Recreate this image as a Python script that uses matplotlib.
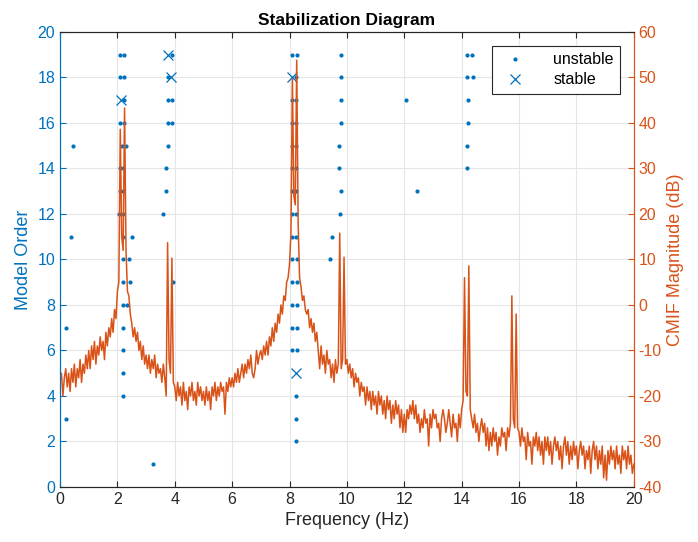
import numpy as np
import matplotlib
matplotlib.use('Agg')
import matplotlib.pyplot as plt
from matplotlib.lines import Line2D

plt.rcParams['font.family'] = ['Liberation Sans', 'DejaVu Sans']
plt.rcParams['axes.unicode_minus'] = False

# unstable poles: (frequency Hz, model order)
unstable_freq = [
    2.09, 2.23, 3.89, 8.09, 8.26, 9.79, 14.18, 14.37,          # 19
    2.09, 2.23, 3.75, 8.24, 9.79, 14.18, 14.41,                # 18
    2.23, 3.75, 3.89, 8.10, 8.24, 9.79, 12.06, 14.23,          # 17
    2.09, 2.23, 3.75, 3.89, 8.10, 8.24, 9.79, 14.23,           # 16
    0.45, 2.15, 2.29, 3.77, 8.10, 8.24, 9.74, 14.18,           # 15
    2.08, 2.21, 3.70, 8.10, 8.24, 9.74, 14.18,                 # 14
    2.08, 2.21, 3.71, 8.10, 8.24, 9.79, 12.46,                 # 13
    2.05, 2.20, 3.58, 8.10, 8.24, 9.77,                        # 12
    0.37, 2.20, 2.51, 8.10, 8.24, 9.49,                        # 11
    2.20, 2.40, 8.09, 8.26, 9.40,                              # 10
    2.20, 2.45, 3.95, 8.10, 8.26,                              # 9
    2.20, 2.32, 8.10, 8.26,                                    # 8
    0.21, 2.20, 8.10, 8.26,                                    # 7
    2.20, 8.10, 8.26,                                          # 6
    2.20,                                                      # 5
    2.20, 8.21,                                                # 4
    0.21, 8.21,                                                # 3
    8.21,                                                      # 2
    3.23,                                                      # 1
]
unstable_order = (
    [19] * 8 + [18] * 7 + [17] * 8 + [16] * 8 + [15] * 8 + [14] * 7
    + [13] * 7 + [12] * 6 + [11] * 6 + [10] * 5 + [9] * 5 + [8] * 4
    + [7] * 4 + [6] * 3 + [5] * 1 + [4] * 2 + [3] * 2 + [2] * 1 + [1] * 1
)

stable_freq = [2.11, 3.75, 3.87, 8.08, 8.21]
stable_order = [17, 19, 18, 18, 5]

# CMIF magnitude (dB), sampled every 0.05 Hz from 0 to 20 Hz
cmif_db = [
    -17, -15, -20, -16, -14, -18, -15, -19, -14, -17, -13, -18, -14, -16, -12, -17, -13, -15, -11, -14,
    -10, -14, -9, -12, -8, -13, -9, -11, -7, -10, -8, -12, -6, -9, -5, -7, -3, -6, -1, -3,
    3, 5, 38.6, 15, 12, 43.3, 12, 3, 2, -2, -4, -7, -5, -8, -6, -10, -8, -12, -9, -13,
    -11, -14, -11, -15, -12, -14, -11, -16, -13, -15, -14, -17, -13, -16, -20, 13.7, -12, -15, 10.3, -17,
    -18, -21, -17, -20, -18, -22, -17, -21, -19, -23, -18, -20, -17, -21, -19, -22, -17, -20, -18, -21,
    -19, -22, -18, -21, -19, -23, -18, -20, -17, -21, -18, -20, -17, -19, -18, -24, -17, -19, -16, -18,
    -16, -18, -15, -17, -14, -17, -15, -13, -16, -13, -15, -12, -14, -11, -15, -16, -14, -10, -13, -11,
    -10, -12, -9, -11, -8, -11, -7, -9, -5, -8, -4, -6, -2, -4, 0, -2, 2, 1, 5, 6,
    9, 16, 49.7, 24, 22, 53.8, 18, 6, 4, 1, 2, -1, -2, -1, -5, -3, -6, -4, -8, -6,
    -10, -14, -9, -13, -11, -15, -10, -13, -12, -16, -13, -17, -12, -15, -13, 15.8, -14, -12, 10.5, -13,
    -12, -15, -13, -16, -14, -18, -15, -17, -16, -20, -17, -19, -18, -22, -18, -21, -19, -23, -19, -22,
    -20, -24, -19, -22, -20, -24, -21, -25, -20, -23, -21, -26, -22, -25, -21, -24, -22, -27, -23, -28,
    -24, -28, -23, -25, -22, -24, -21, -25, -22, -26, -24, -28, -25, -27, -23, -26, -25, -31, -24, -27,
    -23, -25, -24, -27, -26, -30, -25, -23, -25, -28, -26, -23, -26, -29, -24, -27, -26, -30, -24, -27,
    -23, -21, 6.0, -19, -20, 8.6, -23, -25, -27, -24, -28, -26, -30, -27, -25, -28, -26, -31, -27, -32,
    -28, -31, -27, -30, -28, -33, -29, -31, -27, -29, -28, -32, -27, -29, -26, 2.0, -25, -27, -2.0, -27,
    -28, -31, -27, -30, -29, -34, -28, -31, -30, -35, -29, -31, -28, -32, -29, -33, -30, -35, -29, -32,
    -29, -33, -30, -35, -31, -29, -32, -30, -34, -31, -36, -31, -29, -33, -30, -35, -31, -34, -30, -33,
    -31, -36, -32, -30, -33, -31, -36, -32, -34, -31, -37, -32, -30, -34, -31, -36, -32, -35, -31, -38,
    -33, -38.5, -32, -35, -31, -34, -32, -36, -31, -35, -33, -37, -31, -34, -32, -36, -31, -35, -33, -37,
    -35,
]
cmif_freq = np.linspace(0, 20, len(cmif_db))

blue = '#0072BD'
orange = '#D95319'
dark = '#262626'

fig = plt.figure(figsize=(6.98, 5.42), dpi=100)
ax1 = fig.add_axes([0.086, 0.1015, 0.822, 0.8395])
ax2 = ax1.twinx()

ax1.plot(unstable_freq, unstable_order, 'o', color=blue, ms=3.0, mew=0, label='unstable')
ax1.plot(stable_freq, stable_order, 'x', color=blue, ms=7, mew=0.9, label='stable')
ax2.plot(cmif_freq, cmif_db, '-', color=orange, lw=1.1)

ax1.set_xlim(0, 20)
ax1.set_ylim(0, 20)
ax2.set_ylim(-40, 60)
ax1.set_xticks(np.arange(0, 21, 2))
ax1.set_yticks(np.arange(0, 21, 2))
ax2.set_yticks(np.arange(-40, 61, 10))

ax1.grid(True, color='#e6e6e6', lw=0.8)
ax1.set_axisbelow(True)

ax1.tick_params(axis='x', direction='in', top=True, colors=dark, labelsize=11.5, length=4)
ax1.tick_params(axis='y', direction='in', colors=blue, labelsize=11.5, length=4)
ax2.tick_params(axis='y', direction='in', colors=orange, labelsize=11.5, length=4)

for ax in (ax1, ax2):
    ax.spines['top'].set_color(dark)
    ax.spines['bottom'].set_color(dark)
    ax.spines['left'].set_color(blue)
    ax.spines['right'].set_color(orange)

ax1.set_xlabel('Frequency (Hz)', fontsize=13, color=dark)
ax1.set_ylabel('Model Order', fontsize=13, color=blue)
ax2.set_ylabel('CMIF Magnitude (dB)', fontsize=13, color=orange)
ax1.set_title('Stabilization Diagram', fontsize=12.5, fontweight='bold', pad=5)

handles = [
    Line2D([], [], marker='o', ls='none', color=blue, ms=3.0, mew=0),
    Line2D([], [], marker='x', ls='none', color=blue, ms=7, mew=0.9),
]
leg = ax2.legend(handles, ['unstable', 'stable'], loc='upper right',
                 bbox_to_anchor=(0.976, 0.969), fontsize=11.5, fancybox=False,
                 edgecolor=dark, framealpha=1, borderaxespad=0, handletextpad=1.4,
                 handlelength=2.0, borderpad=0.4, labelspacing=0.3)
leg.get_frame().set_linewidth(0.8)

fig.savefig('out.png', dpi=100)
